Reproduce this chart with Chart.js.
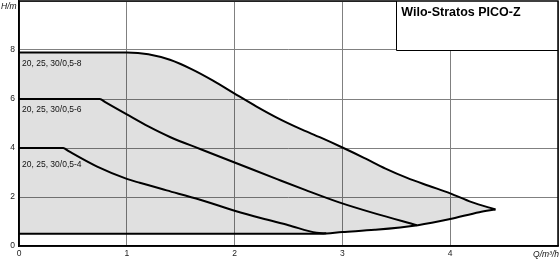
<!DOCTYPE html>
<html>
<head>
<meta charset="utf-8">
<script src="https://cdn.jsdelivr.net/npm/chart.js@4.4.1/dist/chart.umd.min.js"></script>
<style>
html,body{margin:0;padding:0;background:#fff;overflow:hidden}
#wrap{position:relative;width:560px;height:261px}
</style>
</head>
<body>
<div id="wrap"><canvas id="c" width="560" height="261"></canvas></div>
<script>
// ---- data (Q in m³/h, H in m) ----
const maxQ = [0, 1.0, 1.2, 1.4, 1.6, 1.8, 2.0, 2.2, 2.4, 2.6, 2.8, 3.0, 3.2, 3.4, 3.6, 3.8, 4.0, 4.2, 4.42];
const maxH = [7.9, 7.9, 7.83, 7.6, 7.22, 6.75, 6.22, 5.7, 5.22, 4.8, 4.42, 4.02, 3.6, 3.16, 2.78, 2.46, 2.15, 1.79, 1.49];

const midQ = [0, 0.75, 0.8, 1.0, 1.2, 1.4, 1.68, 2.0, 2.4, 2.66, 2.97, 3.3, 3.69];
const midH = [6.0, 6.0, 5.87, 5.37, 4.88, 4.45, 3.96, 3.41, 2.72, 2.28, 1.78, 1.33, 0.85];

const lowQ = [0, 0.41, 0.46, 0.72, 1.0, 1.12, 1.37, 1.68, 2.0, 2.25, 2.5, 2.76, 2.85];
const lowH = [4.0, 4.0, 3.87, 3.25, 2.74, 2.58, 2.27, 1.89, 1.44, 1.13, 0.85, 0.54, 0.52];

const minQ = [0, 2.8, 3.0, 3.3, 3.7, 4.0, 4.27, 4.42];
const minH = [0.5, 0.5, 0.57, 0.66, 0.85, 1.1, 1.38, 1.49];

const xTicks = [0, 1, 2, 3, 4];
const yTicks = [0, 2, 4, 6, 8];
const curveLabels = ['20, 25, 30/0,5-8', '20, 25, 30/0,5-6', '20, 25, 30/0,5-4'];
const titleText = 'Wilo-Stratos PICO-Z';
const xTitle = 'Q/m³/h';
const yTitle = 'H/m';

// ---- build ----
const pts = (q, h) => q.map((v, i) => ({x: v, y: h[i]}));
const FONT = '"Liberation Sans", Arial, sans-serif';
const labelDy = [13.5, 13, 19];

const lineBase = {
  borderColor: '#000', borderWidth: 2, pointRadius: 0,
  cubicInterpolationMode: 'monotone', fill: false
};

const decor = {
  id: 'decor',
  afterDraw(chart) {
    const ctx = chart.ctx, a = chart.chartArea;
    const xs = chart.scales.x, ys = chart.scales.y;
    ctx.save();
    // title box
    const bx = xs.getPixelForValue(3.5), by = ys.getPixelForValue(8);
    ctx.fillStyle = '#fff';
    ctx.fillRect(bx, a.top, a.right - bx, by - a.top);
    ctx.strokeStyle = '#000';
    ctx.lineWidth = 1;
    ctx.beginPath();
    ctx.moveTo(Math.round(bx) + 0.5, a.top);
    ctx.lineTo(Math.round(bx) + 0.5, Math.round(by) + 0.5);
    ctx.lineTo(a.right, Math.round(by) + 0.5);
    ctx.stroke();
    // frame
    ctx.lineWidth = 1.5;
    ctx.strokeRect(a.left, a.top, a.right - a.left, a.bottom - a.top);
    // title
    ctx.fillStyle = '#000';
    ctx.font = 'bold 12.5px ' + FONT;
    ctx.textBaseline = 'alphabetic';
    ctx.textAlign = 'left';
    ctx.fillText(titleText, bx + 5, 16);
    // curve labels
    ctx.font = '8.5px ' + FONT;
    ctx.fillStyle = '#111';
    [maxH[0], midH[0], lowH[0]].forEach((h, i) => {
      ctx.fillText(curveLabels[i], a.left + 3, ys.getPixelForValue(h) + labelDy[i]);
    });
    // axis titles
    ctx.font = 'italic 8.5px ' + FONT;
    ctx.fillText(yTitle, 1, 9);
    ctx.textAlign = 'right';
    ctx.fillText(xTitle, 559, 257);
    ctx.restore();
  }
};

new Chart(document.getElementById('c'), {
  type: 'line',
  data: {
    datasets: [
      Object.assign({}, lineBase, {label: 'min', data: pts(minQ, minH)}),
      Object.assign({}, lineBase, {label: curveLabels[0], data: pts(maxQ, maxH),
        fill: {target: 0}, backgroundColor: 'rgba(0,0,0,0.12)'}),
      Object.assign({}, lineBase, {label: curveLabels[1], data: pts(midQ, midH)}),
      Object.assign({}, lineBase, {label: curveLabels[2], data: pts(lowQ, lowH)})
    ]
  },
  options: {
    responsive: false, animation: false, devicePixelRatio: 1,
    layout: {padding: {top: 1, right: 2, left: 0, bottom: 0}},
    plugins: {legend: {display: false}, tooltip: {enabled: false},
      filler: {drawTime: 'beforeDatasetsDraw'}},
    scales: {
      x: {
        type: 'linear', min: 0, max: 5,
        afterBuildTicks: s => { s.ticks = [0,1,2,3,4,5].map(v => ({value: v})); },
        afterFit: s => { s.height = 15; s.paddingLeft = 0; s.paddingRight = 0; s.paddingTop = 0; s.paddingBottom = 0; },
        grid: {color: '#808080', lineWidth: 1, drawTicks: false},
        border: {display: true, color: '#000', width: 1.5},
        ticks: {padding: 3, color: '#222', font: {family: FONT, size: 8.5},
          callback: v => xTicks.includes(v) ? String(v) : ''}
      },
      y: {
        type: 'linear', min: 0, max: 10,
        afterBuildTicks: s => { s.ticks = [0,2,4,6,8,10].map(v => ({value: v})); },
        afterFit: s => { s.width = 19; s.paddingTop = 0; s.paddingBottom = 0; s.paddingLeft = 0; s.paddingRight = 0; },
        grid: {color: '#808080', lineWidth: 1, drawTicks: false},
        border: {display: true, color: '#000', width: 1.5},
        ticks: {padding: 4, color: '#222', font: {family: FONT, size: 8.5},
          callback: v => yTicks.includes(v) ? String(v) : ''}
      }
    }
  },
  plugins: [decor]
});
</script>
</body>
</html>
